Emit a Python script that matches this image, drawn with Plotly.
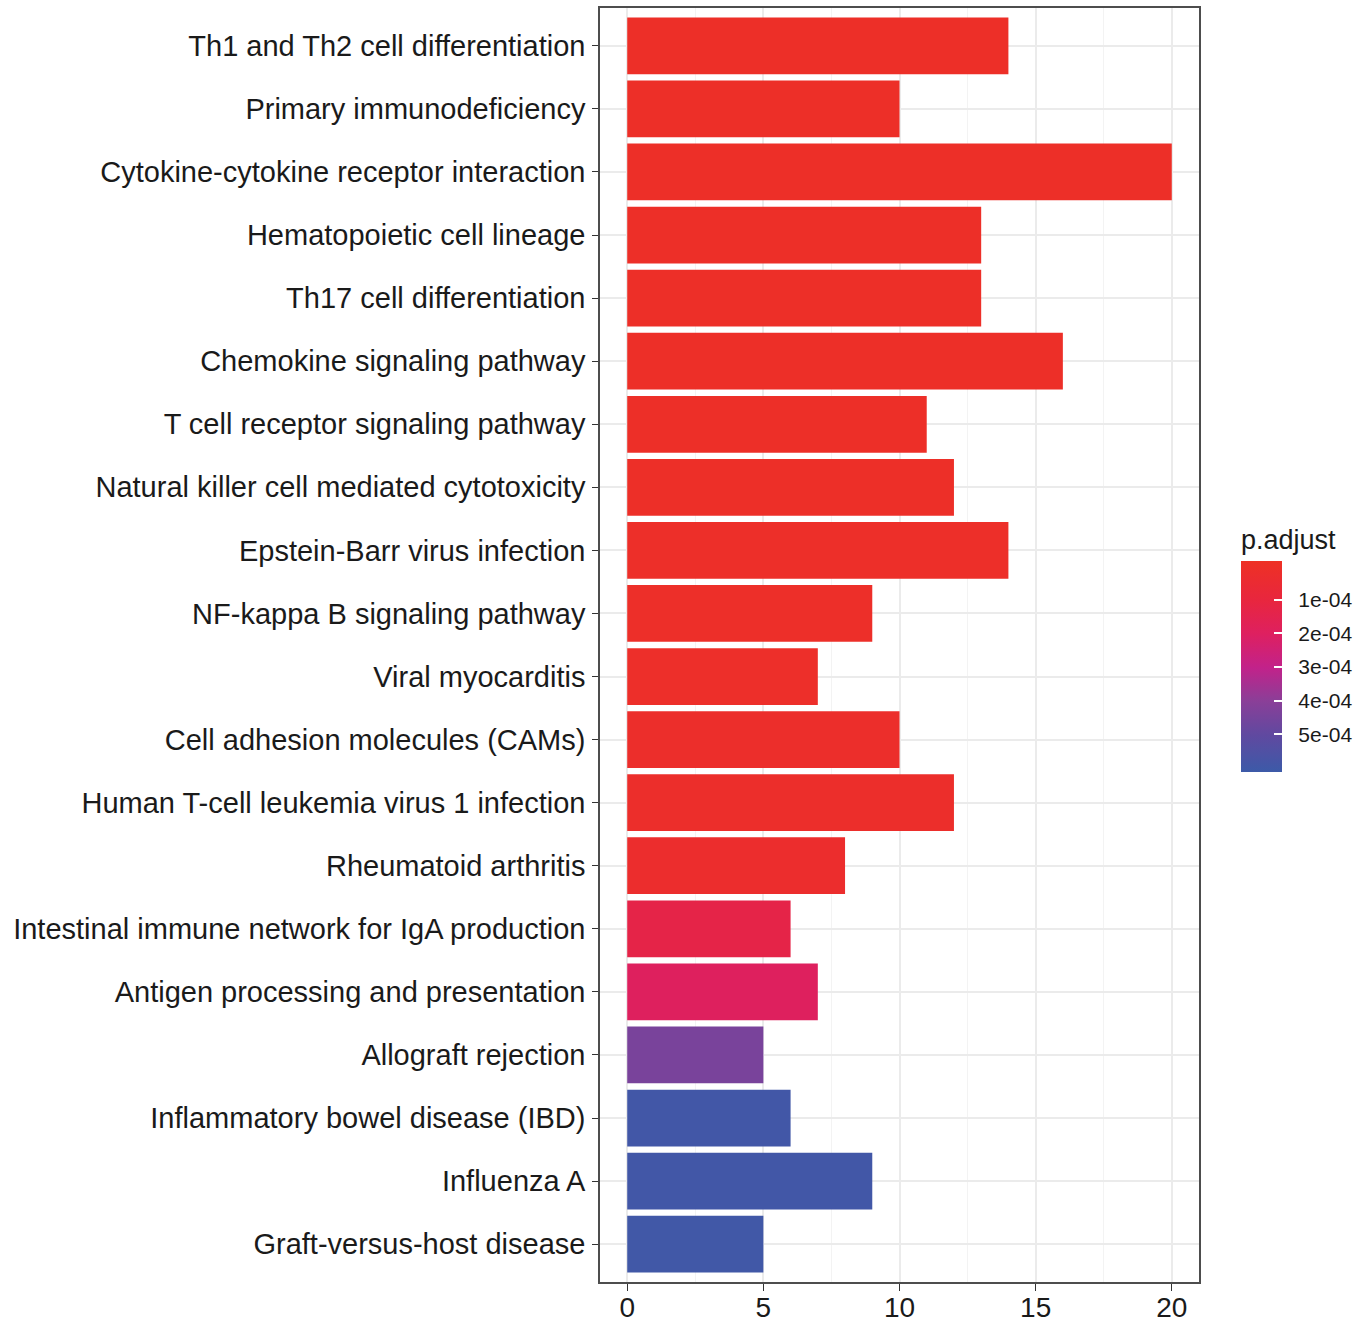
import plotly.graph_objects as go

# KEGG pathway enrichment: gene counts and adjusted p-values (top to bottom)
pathways = [
    "Th1 and Th2 cell differentiation",
    "Primary immunodeficiency",
    "Cytokine-cytokine receptor interaction",
    "Hematopoietic cell lineage",
    "Th17 cell differentiation",
    "Chemokine signaling pathway",
    "T cell receptor signaling pathway",
    "Natural killer cell mediated cytotoxicity",
    "Epstein-Barr virus infection",
    "NF-kappa B signaling pathway",
    "Viral myocarditis",
    "Cell adhesion molecules (CAMs)",
    "Human T-cell leukemia virus 1 infection",
    "Rheumatoid arthritis",
    "Intestinal immune network for IgA production",
    "Antigen processing and presentation",
    "Allograft rejection",
    "Inflammatory bowel disease (IBD)",
    "Influenza A",
    "Graft-versus-host disease",
]
counts = [14, 10, 20, 13, 13, 16, 11, 12, 14, 9, 7, 10, 12, 8, 6, 7, 5, 6, 9, 5]
p_adjust = [
    1.0e-9, 2.0e-8, 3.0e-8, 1.5e-7, 4.0e-7, 6.0e-7, 2.0e-6, 3.0e-6, 5.0e-6, 7.0e-6,
    1.0e-5, 1.3e-5, 1.6e-5, 2.2e-5, 1.30e-4, 1.95e-4, 4.40e-4, 5.93e-4, 5.93e-4, 5.94e-4,
]
legend_ticks = [1e-4, 2e-4, 3e-4, 4e-4, 5e-4]
legend_labels = ["1e-04", "2e-04", "3e-04", "4e-04", "5e-04"]

# colour limits, low p-values (red) shown at the top of the colour bar
p_low, p_high = -0.16e-4, 6.1e-4

# plotted on a negated scale so the colour bar runs red (top) to blue (bottom)
neg_p = [-v for v in p_adjust]
colorscale = [
    [0.000, "#3C5AA8"],
    [0.176, "#6049A0"],
    [0.335, "#8A3F98"],
    [0.495, "#C2228A"],
    [0.655, "#DE2060"],
    [0.815, "#E8263E"],
    [1.000, "#EE3124"],
]

FONT = "Liberation Sans, Arial, Helvetica, sans-serif"
GAP = "\u00a0\u00a0"

fig = go.Figure(
    go.Bar(
        x=counts,
        y=pathways,
        orientation="h",
        width=0.9,
        marker=dict(
            color=neg_p,
            colorscale=colorscale,
            cmin=-p_high,
            cmax=-p_low,
            line=dict(width=0),
            colorbar=dict(
                title=dict(text="p.adjust", side="top",
                           font=dict(size=27, color="#1A1A1A", family=FONT)),
                tickvals=[-v for v in legend_ticks],
                ticktext=[GAP + t for t in legend_labels],
                tickfont=dict(size=21, color="#1A1A1A", family=FONT),
                ticks="inside",
                ticklen=8,
                tickcolor="white",
                tickwidth=1.5,
                thickness=41,
                thicknessmode="pixels",
                len=246,
                lenmode="pixels",
                x=1.07,
                xanchor="left",
                xref="paper",
                y=0.4972,
                yanchor="middle",
                outlinewidth=0,
                xpad=0,
                ypad=0,
            ),
        ),
        hovertemplate="%{y}<br>Count: %{x}<extra></extra>",
    )
)

fig.update_layout(
    width=1369,
    height=1327,
    margin=dict(l=600, r=170, t=8, b=45),
    paper_bgcolor="white",
    plot_bgcolor="white",
    font=dict(family=FONT, color="#1A1A1A"),
    showlegend=False,
    bargap=0.1,
)

fig.update_xaxes(
    range=[-1, 21],
    tickvals=[0, 5, 10, 15, 20],
    ticks="outside",
    ticklen=7,
    tickwidth=1.3,
    tickcolor="#333333",
    ticklabelstandoff=-7,
    tickfont=dict(size=28, color="#1A1A1A", family=FONT),
    showgrid=True,
    gridcolor="#EBEBEB",
    gridwidth=2,
    minor=dict(dtick=2.5, tick0=0, showgrid=True, gridcolor="#F3F3F3", gridwidth=1.2),
    zeroline=False,
    showline=True,
    mirror=True,
    linecolor="#4D4D4D",
    linewidth=1.5,
    automargin=False,
)

fig.update_yaxes(
    type="category",
    categoryorder="array",
    categoryarray=pathways,
    range=[19.6, -0.6],
    ticks="outside",
    ticklen=6,
    tickwidth=1.3,
    tickcolor="#333333",
    ticklabelstandoff=1,
    tickfont=dict(size=29, color="#1A1A1A", family=FONT),
    showgrid=True,
    gridcolor="#EBEBEB",
    gridwidth=2,
    zeroline=False,
    showline=True,
    mirror=True,
    linecolor="#4D4D4D",
    linewidth=1.5,
    automargin=False,
)

fig.write_html("out.html")
